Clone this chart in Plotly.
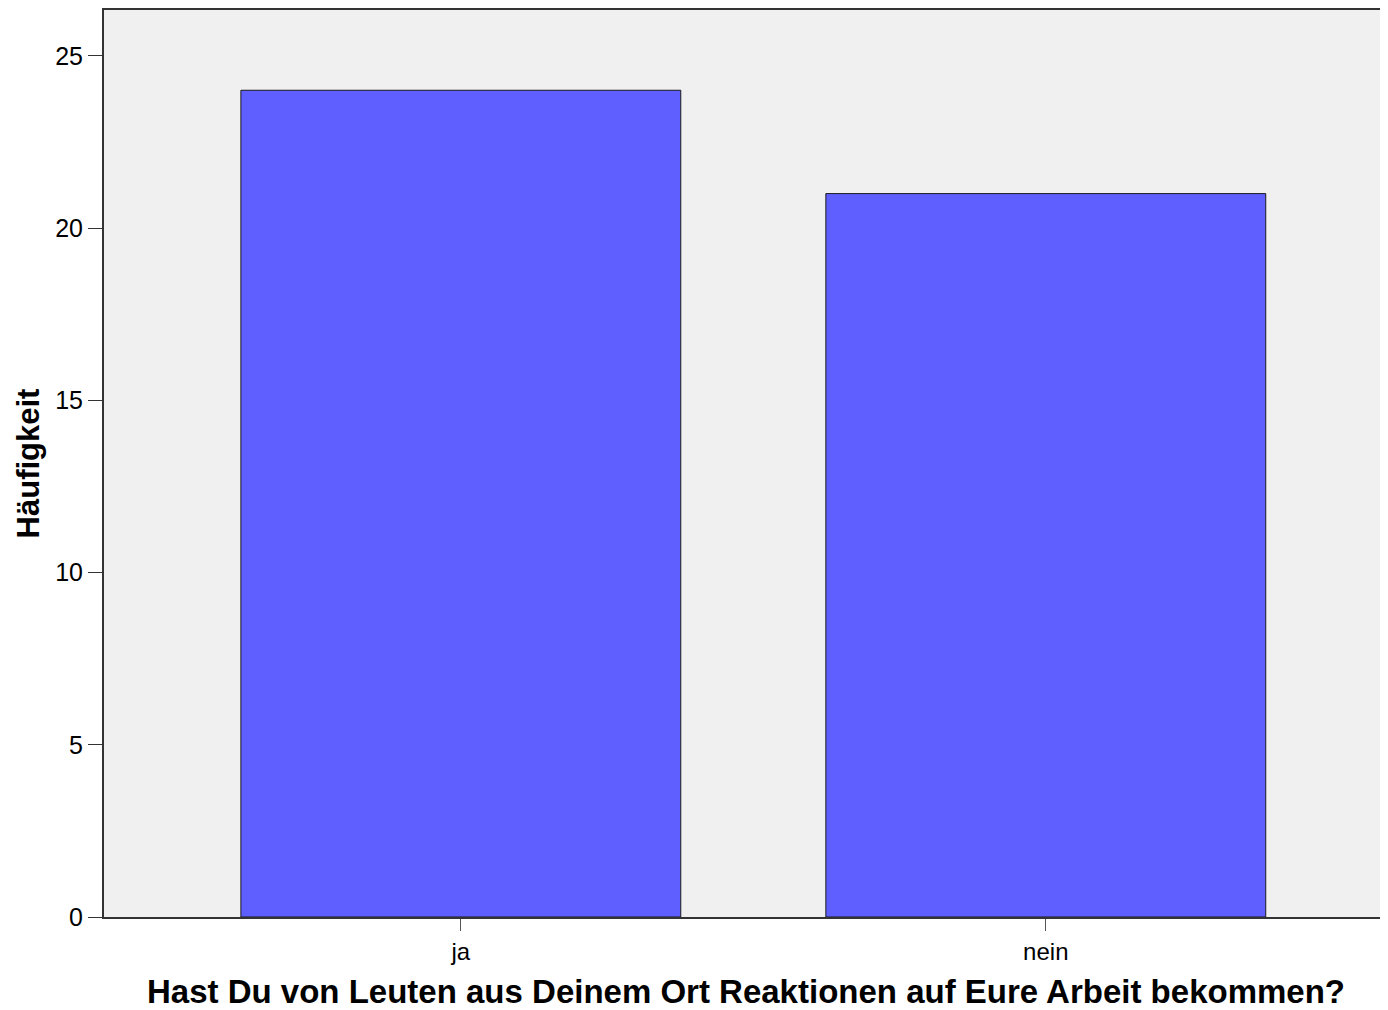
import plotly.graph_objects as go

categories = ["ja", "nein"]
counts = [24, 21]
y_ticks = [0, 5, 10, 15, 20, 25]

fig = go.Figure(go.Bar(
    x=categories, y=counts,
    width=0.752,
    marker={'color': "#5f5fff", 'line': {'color': "#1a1a1a", 'width': 1}}
))

# page body has an 8px margin, so the figure is sized to fit inside the window
fig.update_layout(
    width=1380, height=1002,
    margin={'l': 96, 'r': 0, 't': 0, 'b': 93},
    paper_bgcolor="white",
    plot_bgcolor="#f0f0f0",
    font={'family': "Liberation Sans, Arial", 'color': "black"},
    showlegend=False,
    xaxis={
        'range': [-0.61, 1.585],
        'showline': True, 'linecolor': "#333333", 'linewidth': 2, 'mirror': True,
        'ticks': "outside", 'ticklen': 12, 'tickcolor': "#555555", 'tickwidth': 1,
        'tickfont': {'size': 24},
        'title': {'text': "<b>Hast Du von Leuten aus Deinem Ort Reaktionen auf Eure Arbeit bekommen?</b>",
                  'font': {'size': 33}, 'standoff': 20},
        'showgrid': False,
    },
    yaxis={
        'range': [0, 26.33],
        'tickvals': y_ticks,
        'showline': True, 'linecolor': "#333333", 'linewidth': 2,
        'ticks': "outside", 'ticklen': 14, 'tickcolor': "#333333", 'tickwidth': 1,
        'tickfont': {'size': 25},
        'title': {'text': "<b>Häufigkeit</b>", 'font': {'size': 31}, 'standoff': 6},
        'showgrid': False, 'zeroline': False,
    },
)

fig.write_html("out.html")
